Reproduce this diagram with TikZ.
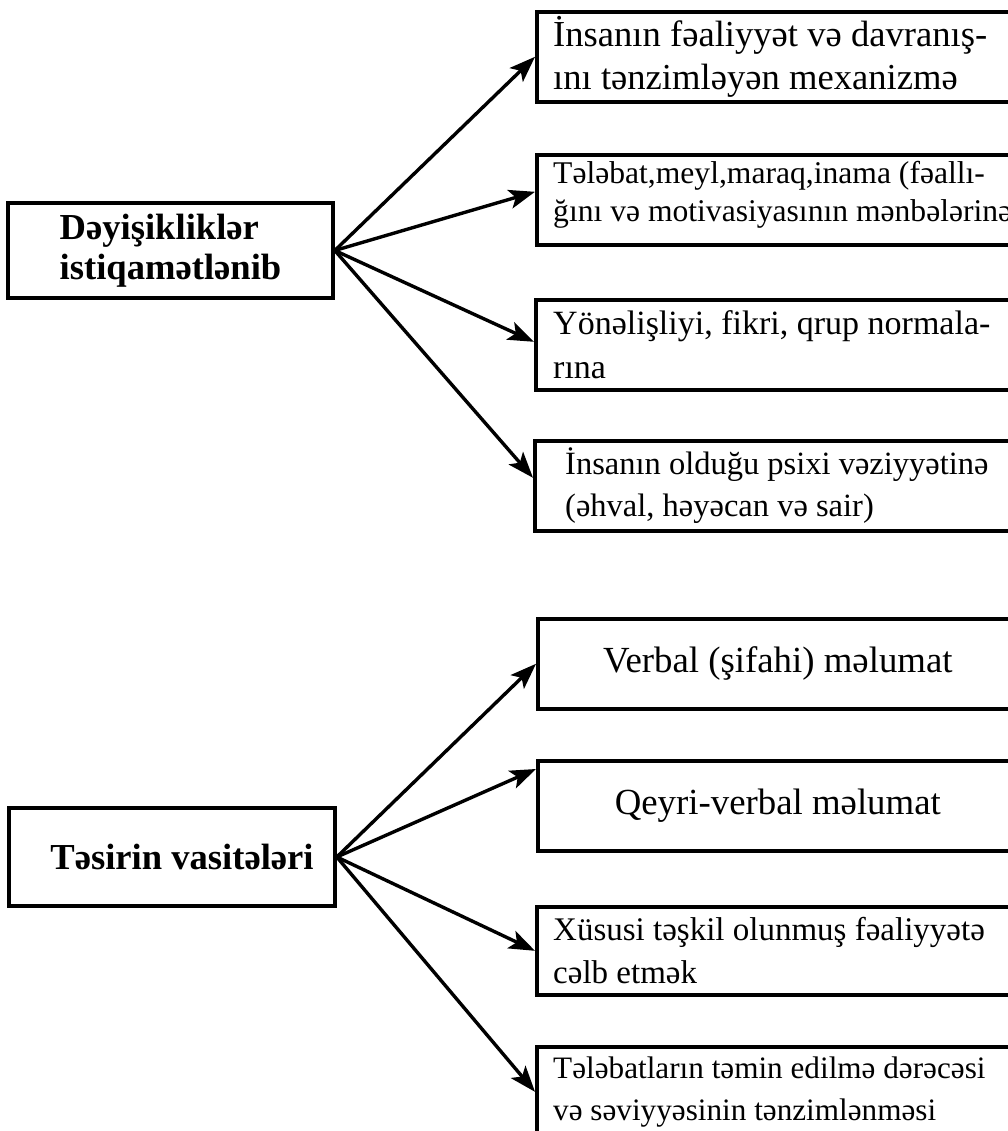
\documentclass[tikz,border=0pt]{standalone}
\usepackage{fontspec}
\setmainfont{Liberation Serif}
\usetikzlibrary{arrows.meta, positioning, calc}

\begin{document}
\begin{tikzpicture}[x=1pt, y=1pt,
  box/.style={draw, line width=3.6pt, minimum width=480pt, minimum height=90pt, inner sep=0pt, anchor=north west},
  headbox/.style={draw, line width=3.6pt, align=left, font=\bfseries\fontsize{36.6}{40}\selectfont},
  lbl/.style={anchor=west, inner sep=0pt, align=left},
  arr/.style={-{Stealth[length=26pt, width=19pt, inset=6pt]}, line width=3.4pt}]
  \useasboundingbox (0,0) rectangle (1008,-1131);
  \clip (0,0) rectangle (1008,-1131);
  % left boxes
  \node[headbox, minimum width=325pt, minimum height=95pt] (dir) at (170.5,-250.5) {Dəyişikliklər\\istiqamətlənib};
  \node[headbox, minimum width=326pt, minimum height=98pt] (tool) at (172,-857) {\hspace*{20pt}Təsirin vasitələri};
  % top group
  \node[box] (b1) at (535,-10) {};
  \node[box] (b2) at (535,-153) {};
  \node[box] (b3) at (534,-298) {};
  \node[box] (b4) at (533,-439) {};
  \node[lbl, font=\fontsize{36.6}{43}\selectfont] (t1) at ([xshift=18pt]b1.west) {İnsanın fəaliyyət və davranış-\\ını tənzimləyən mexanizmə};
  \node[lbl, font=\fontsize{31.6}{38}\selectfont] (t2) at ([xshift=18pt, yshift=5pt]b2.west) {Tələbat,meyl,maraq,inama (fəallı-\\ğını və motivasiyasının mənbələrinə};
  \node[lbl, font=\fontsize{34}{44}\selectfont] (t3) at ([xshift=19pt]b3.west) {Yönəlişliyi, fikri, qrup normala-\\rına};
  \node[lbl, font=\fontsize{32.5}{42}\selectfont] (t4) at ([xshift=32pt]b4.west) {İnsanın olduğu psixi vəziyyətinə\\(əhval, həyəcan və sair)};
  \draw[arr] (dir.east) -- (b1.west);
  \draw[arr] (dir.east) -- ([yshift=8pt]b2.west);
  \draw[arr] (dir.east) -- ([yshift=3pt]b3.west);
  \draw[arr] (dir.east) -- ([yshift=8pt]b4.west);
  % bottom group
  \node[box] (b5) at (536,-617) {};
  \node[box] (b6) at (536,-759) {};
  \node[box, minimum height=88pt] (b7) at (535,-905) {};
  \node[box] (b8) at (535,-1045) {};
  \node[font=\fontsize{36.8}{43}\selectfont, inner sep=0pt] (t5) at (b5.center) {Verbal (şifahi) məlumat};
  \node[font=\fontsize{36.8}{43}\selectfont, inner sep=0pt] (t6) at (b6.center) {Qeyri-verbal məlumat};
  \node[lbl, font=\fontsize{33}{43}\selectfont] (t7) at ([xshift=18pt]b7.west) {Xüsusi təşkil olunmuş fəaliyyətə\\cəlb etmək};
  \node[lbl, font=\fontsize{31.2}{42}\selectfont] (t8) at ([xshift=18pt]b8.west) {Tələbatların təmin edilmə dərəcəsi\\və səviyyəsinin tənzimlənməsi};
  \draw[arr] (tool.east) -- (b5.west);
  \draw[arr] (tool.east) -- ([yshift=-10pt]b6.north west);
  \draw[arr] (tool.east) -- (b7.west);
  \draw[arr] (tool.east) -- (b8.west);
\end{tikzpicture}
\end{document}
